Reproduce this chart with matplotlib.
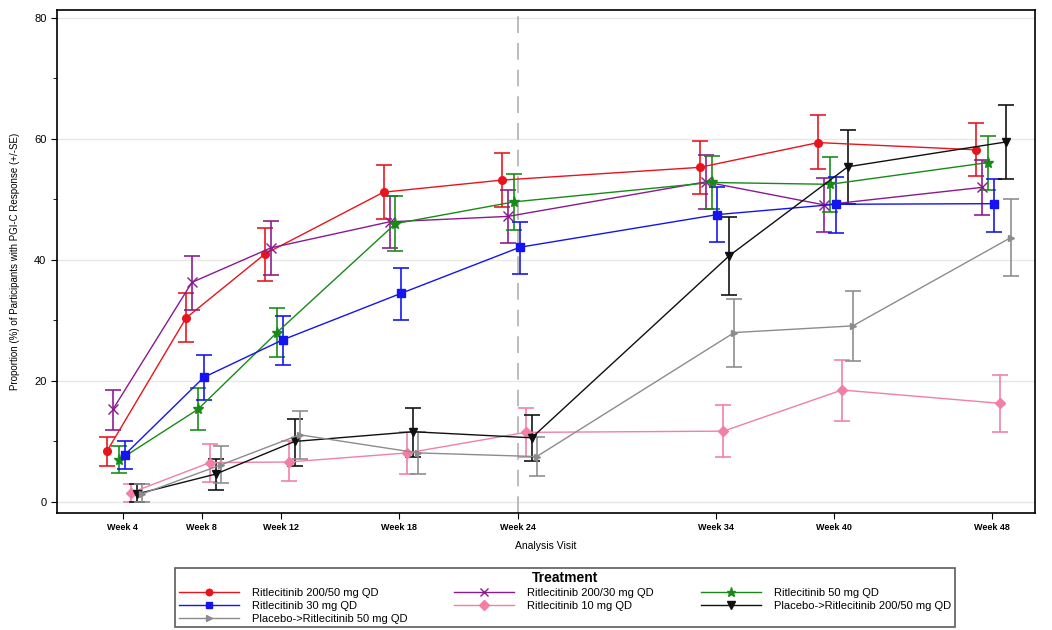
import numpy as np
import matplotlib
matplotlib.use("Agg")
import matplotlib.pyplot as plt
from matplotlib.ticker import MultipleLocator

plt.rcParams['font.family'] = ['Liberation Sans', 'DejaVu Sans']

weeks = [4, 8, 12, 18, 24, 34, 40, 48]
week_labels = ["Week 4", "Week 8", "Week 12", "Week 18", "Week 24", "Week 34", "Week 40", "Week 48"]

treatments = [
    "Ritlecitinib 200/50 mg QD",
    "Ritlecitinib 200/30 mg QD",
    "Ritlecitinib 50 mg QD",
    "Ritlecitinib 30 mg QD",
    "Ritlecitinib 10 mg QD",
    "Placebo->Ritlecitinib 200/50 mg QD",
    "Placebo->Ritlecitinib 50 mg QD",
]

# proportion (%) per visit, with upper / lower SE limits
r200_50 = [8.4, 30.4, 41.0, 51.2, 53.2, 55.3, 59.4, 58.2]
r200_50_hi = [10.7, 34.5, 45.3, 55.7, 57.7, 59.6, 63.9, 62.6]
r200_50_lo = [6.0, 26.5, 36.6, 46.7, 48.7, 50.9, 55.0, 53.8]

r200_30 = [15.3, 36.3, 42.0, 46.3, 47.2, 52.9, 49.1, 52.0]
r200_30_hi = [18.5, 40.7, 46.5, 50.5, 51.6, 57.4, 53.5, 56.5]
r200_30_lo = [11.9, 31.7, 37.5, 42.0, 42.8, 48.4, 44.6, 47.5]

r50 = [6.9, 15.3, 28.0, 46.0, 49.6, 52.8, 52.5, 56.1]
r50_hi = [9.3, 18.8, 32.0, 50.5, 54.2, 57.2, 57.0, 60.5]
r50_lo = [4.7, 11.9, 23.9, 41.5, 45.0, 48.4, 47.9, 51.5]

r30 = [7.8, 20.6, 26.8, 34.5, 42.1, 47.5, 49.2, 49.3]
r30_hi = [10.0, 24.3, 30.7, 38.6, 46.3, 52.0, 53.7, 53.4]
r30_lo = [5.4, 16.9, 22.6, 30.1, 37.6, 43.0, 44.4, 44.6]

r10 = [1.5, 6.5, 6.6, 8.1, 11.5, 11.7, 18.5, 16.3]
r10_hi = [3.0, 9.5, 10.0, 11.6, 15.6, 16.0, 23.5, 21.0]
r10_lo = [0.0, 3.3, 3.5, 4.6, 7.5, 7.4, 13.4, 11.5]

pbo200 = [1.3, 4.6, 10.0, 11.6, 10.6, 40.7, 55.4, 59.5]
pbo200_hi = [3.0, 7.1, 13.7, 15.6, 14.4, 47.1, 61.5, 65.6]
pbo200_lo = [0.0, 2.0, 6.0, 7.4, 6.8, 34.2, 49.2, 53.3]

pbo50 = [1.3, 6.1, 11.1, 8.1, 7.5, 28.0, 29.1, 43.7]
pbo50_hi = [3.0, 9.3, 15.0, 11.5, 10.7, 33.6, 34.9, 50.0]
pbo50_lo = [0.0, 3.1, 7.1, 4.6, 4.3, 22.3, 23.3, 37.4]

values = [r200_50, r200_30, r50, r30, r10, pbo200, pbo50]
uppers = [r200_50_hi, r200_30_hi, r50_hi, r30_hi, r10_hi, pbo200_hi, pbo50_hi]
lowers = [r200_50_lo, r200_30_lo, r50_lo, r30_lo, r10_lo, pbo200_lo, pbo50_lo]

colors = ["#e8141c", "#8a1a8e", "#178a17", "#1414f0", "#f27fa5", "#101010", "#8c8c8c"]
markers = ["o", "x", "*", "s", "D", "v", ">"]
msizes = [5.5, 6.5, 8, 5.5, 5.5, 6, 5]
offsets = [-0.8, -0.5, -0.2, 0.1, 0.4, 0.7, 0.95]

fig = plt.figure(figsize=(10.52, 6.3), dpi=100)
ax = fig.add_axes([0.054, 0.186, 0.93, 0.798])

handles = {}
for name, y, hi, lo, c, m, ms, off in zip(treatments, values, uppers, lowers,
                                         colors, markers, msizes, offsets):
    x = np.array(weeks) + off
    y = np.array(y)
    yerr = [y - np.array(lo), np.array(hi) - y]
    ax.errorbar(x, y, yerr=yerr, fmt="none", ecolor=c, elinewidth=1.3,
                capsize=6, capthick=1.3, alpha=0.9, zorder=2)
    line, = ax.plot(x, y, color=c, lw=1.0, marker=m, markersize=ms,
                    markeredgecolor=c, markerfacecolor=c, zorder=3)
    handles[name] = line

ax.axvline(24, color="#b0b0b0", lw=1.2, dashes=(10, 6), zorder=1)

ax.set_xlim(0.66, 50.18)
ax.set_ylim(-1.8, 81.3)
ax.set_xticks(weeks)
ax.set_xticklabels(week_labels, fontsize=6.5, fontweight="bold")
ax.yaxis.set_major_locator(MultipleLocator(20))
ax.yaxis.set_minor_locator(MultipleLocator(10))
ax.tick_params(axis="y", labelsize=8, length=4)
ax.tick_params(axis="y", which="minor", length=3)
ax.tick_params(axis="x", length=4)
ax.grid(axis="y", color="#e8e8e8", lw=1.0, zorder=0)
ax.set_axisbelow(True)
for s in ax.spines.values():
    s.set_linewidth(1.2)

ax.set_xlabel("Analysis Visit", fontsize=7.5, labelpad=6)
ax.set_ylabel("Proportion (%) of Participants with PGI-C Response (+/-SE)",
              fontsize=7, labelpad=10)

# legend laid out row by row like the original (matplotlib fills by column)
order = [0, 3, 6, 1, 4, 2, 5]
leg = fig.legend([handles[treatments[i]] for i in order],
                 [treatments[i] for i in order],
                 ncol=3, loc="lower center", bbox_to_anchor=(0.537, 0.0),
                 fontsize=8, title="Treatment", handlelength=5.4,
                 handletextpad=1.2, columnspacing=4.2, labelspacing=0.26,
                 borderpad=0.3, borderaxespad=0.25, markerscale=0.85,
                 frameon=True, fancybox=False, edgecolor="#333333",
                 alignment="center")
leg.get_title().set_fontweight("bold")
leg.get_title().set_fontsize(10)
leg.get_frame().set_linewidth(1.2)

fig.savefig("out.png", dpi=100)
